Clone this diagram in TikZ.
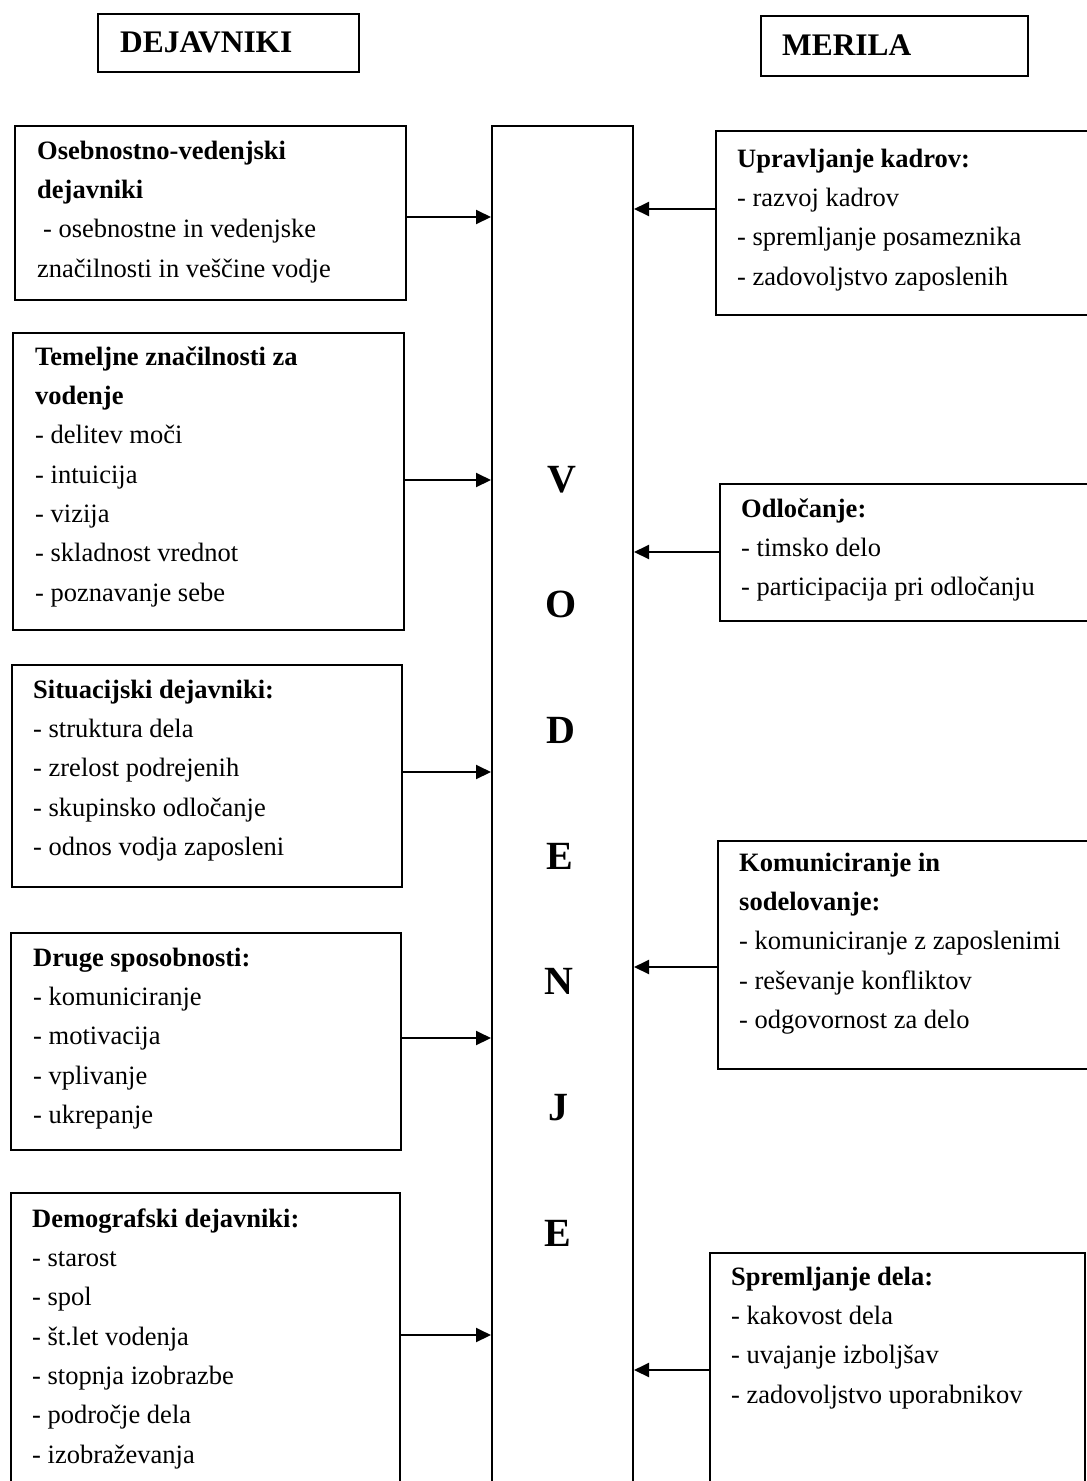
\documentclass[tikz,border=0pt]{standalone}
\usepackage{fontspec}
\setmainfont{Liberation Serif}
\usetikzlibrary{arrows.meta}
\begin{document}
\begin{tikzpicture}[x=1pt,y=-1pt,
  box/.style={draw, line width=2pt, rectangle, inner sep=0pt, anchor=north west},
  txt/.style={inner sep=0pt, anchor=north west, align=left, font=\fontsize{26.5}{39.3}\selectfont},
  head/.style={inner sep=0pt, anchor=base west, font=\fontsize{31.4}{36}\selectfont\bfseries},
  vl/.style={inner sep=0pt, anchor=base, font=\fontsize{40}{44}\selectfont\bfseries},
  arr/.style={line width=2pt, -{Triangle[length=15pt,width=14pt]}}]
\useasboundingbox (0,0) rectangle (1087,1481);
\clip (0,0) rectangle (1087,1481);
\fill[white] (0,0) rectangle (1087,1481);

% headers
\node[box, minimum width=261pt, minimum height=58pt] (H1) at (97,13) {};
\node[head] (H1t) at (120,52) {DEJAVNIKI};
\node[box, minimum width=267pt, minimum height=60pt] (H2) at (760,15) {};
\node[head] (H2t) at (782,55) {MERILA};

% central box
\node[box, minimum width=141pt, minimum height=1380pt] (C) at (491,125) {};
\node[vl] (v1) at (562,492) {V};
\node[vl] (v2) at (561,617) {O};
\node[vl] (v3) at (561,743) {D};
\node[vl] (v4) at (560,869) {E};
\node[vl] (v5) at (559,994) {N};
\node[vl] (v6) at (558,1120) {J};
\node[vl] (v7) at (558,1246) {E};

% left boxes
\node[box, minimum width=391pt, minimum height=174pt] (L1) at (14,125) {};
\node[txt] (L1t) at (37,139) {\rule{0pt}{20pt}\textbf{Osebnostno-vedenjski}\\ \textbf{dejavniki}\\ \hspace*{6pt}- osebnostne in vedenjske\\ značilnosti in veščine vodje};

\node[box, minimum width=391pt, minimum height=297pt] (L2) at (12,332) {};
\node[txt] (L2t) at (35,345) {\rule{0pt}{20pt}\textbf{Temeljne značilnosti za}\\ \textbf{vodenje}\\ - delitev moči\\ - intuicija\\ - vizija\\ - skladnost vrednot\\ - poznavanje sebe};

\node[box, minimum width=390pt, minimum height=222pt] (L3) at (11,664) {};
\node[txt] (L3t) at (33,678) {\rule{0pt}{20pt}\textbf{Situacijski dejavniki:}\\ - struktura dela\\ - zrelost podrejenih\\ - skupinsko odločanje\\ - odnos vodja zaposleni};

\node[box, minimum width=390pt, minimum height=217pt] (L4) at (10,932) {};
\node[txt] (L4t) at (33,946) {\rule{0pt}{20pt}\textbf{Druge sposobnosti:}\\ - komuniciranje\\ - motivacija\\ - vplivanje\\ - ukrepanje};

\node[box, minimum width=389pt, minimum height=320pt] (L5) at (10,1192) {};
\node[txt] (L5t) at (32,1207) {\rule{0pt}{20pt}\textbf{Demografski dejavniki:}\\ - starost\\ - spol\\ - št.let vodenja\\ - stopnja izobrazbe\\ - področje dela\\ - izobraževanja};

% right boxes
\node[box, minimum width=400pt, minimum height=184pt] (R1) at (715,130) {};
\node[txt] (R1t) at (737,147) {\rule{0pt}{20pt}\textbf{Upravljanje kadrov:}\\ - razvoj kadrov\\ - spremljanje posameznika\\ - zadovoljstvo zaposlenih};

\node[box, minimum width=400pt, minimum height=137pt] (R2) at (719,483) {};
\node[txt] (R2t) at (741,497) {\rule{0pt}{20pt}\textbf{Odločanje:}\\ - timsko delo\\ - participacija pri odločanju};

\node[box, minimum width=400pt, minimum height=228pt] (R3) at (717,840) {};
\node[txt] (R3t) at (739,851) {\rule{0pt}{20pt}\textbf{Komuniciranje in}\\ \textbf{sodelovanje:}\\ - komuniciranje z zaposlenimi\\ - reševanje konfliktov\\ - odgovornost za delo};

\node[box, minimum width=375pt, minimum height=260pt] (R4) at (709,1252) {};
\node[txt] (R4t) at (731,1265) {\rule{0pt}{20pt}\textbf{Spremljanje dela:}\\ - kakovost dela\\ - uvajanje izboljšav\\ - zadovoljstvo uporabnikov};

% arrows
\draw[arr] (L1.east |- 0,217) -- (C.west |- 0,217);
\draw[arr] (L2.east |- 0,480) -- (C.west |- 0,480);
\draw[arr] (L3.east |- 0,772) -- (C.west |- 0,772);
\draw[arr] (L4.east |- 0,1038) -- (C.west |- 0,1038);
\draw[arr] (L5.east |- 0,1335) -- (C.west |- 0,1335);
\draw[arr] (R1.west |- 0,209) -- (C.east |- 0,209);
\draw[arr] (R2.west |- 0,552) -- (C.east |- 0,552);
\draw[arr] (R3.west |- 0,967) -- (C.east |- 0,967);
\draw[arr] (R4.west |- 0,1370) -- (C.east |- 0,1370);
\end{tikzpicture}
\end{document}
